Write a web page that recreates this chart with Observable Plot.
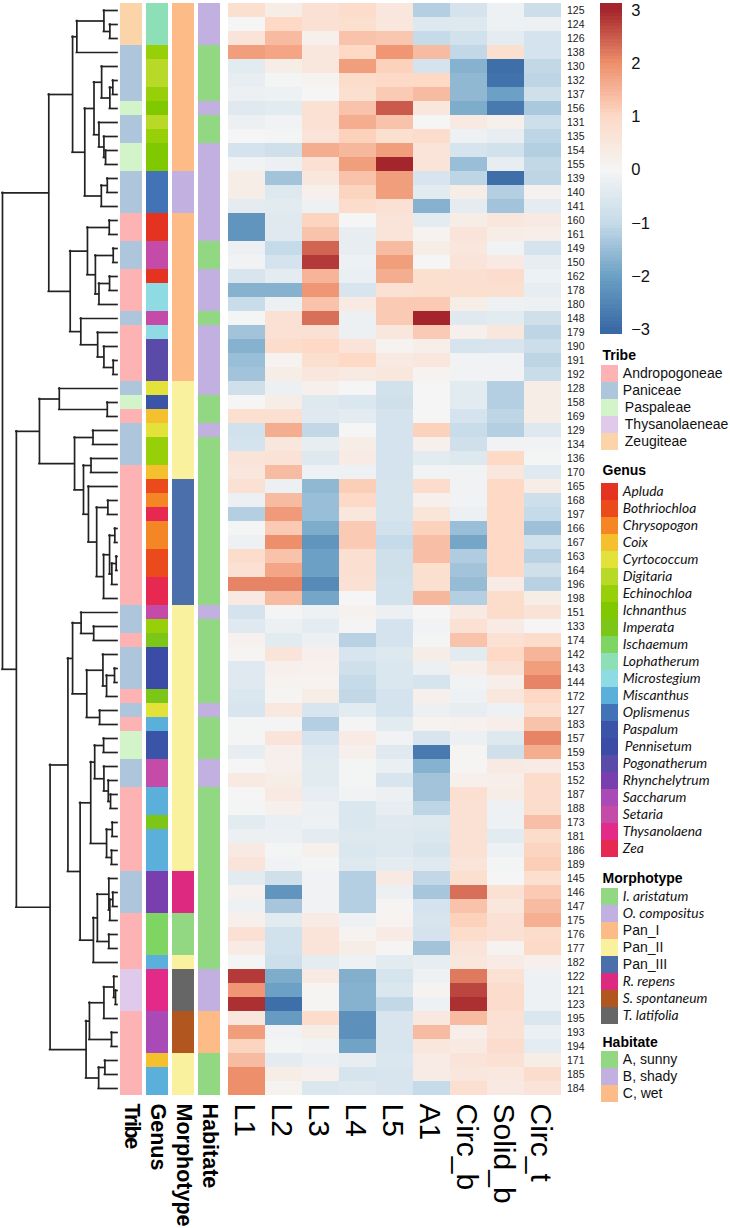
<!DOCTYPE html>
<html>
<head>
<meta charset="utf-8">
<script src="https://cdn.jsdelivr.net/npm/d3@7"></script>
<script src="https://cdn.jsdelivr.net/npm/@observablehq/plot@0.6"></script>
<style>
html,body{margin:0;padding:0;background:#fff}
#chart{position:relative;width:730px;height:1228px;overflow:hidden}
</style>
</head>
<body>
<div id="chart"></div>
<script>
const rows = [125,124,126,138,130,132,137,156,131,135,154,155,139,140,141,160,161,149,150,162,178,180,148,179,190,191,192,
128,158,169,129,134,136,170,165,168,197,166,167,163,164,196,198,151,133,174,142,143,144,172,127,183,157,159,153,
152,187,188,173,181,186,189,145,146,147,175,176,177,182,122,121,123,195,193,194,171,185,184].map(String);
const columns = ["L1","L2","L3","L4","L5","A1","Circ_b","Solid_b","Circ_t"];

const L1 = [.8,0,.6,1.8,-.4,-.3,-.2,-.45,-.2,0,-.7,-.1,.3,.3,-.35,-2.2,-2.2,-.2,-.1,-.6,-1.7,-.95,-.05,-1.4,-1.7,-1.5,-1.4,
-.8,0,.8,-.75,-.7,.6,.5,.7,-.2,-1.2,-.05,-.15,.9,.7,2.1,.4,-.7,-.45,.15,.05,-.45,-.45,-.55,-.6,-.05,-.02,-.3,0,
.4,0,-.05,-.4,-.2,.4,.6,-.4,.15,-.15,.2,.7,.35,-.05,2.8,1.9,2.9,.5,1.8,1.05,1.4,2,2];
const L2 = [.3,1,1.4,1.7,.3,-.05,-.15,-.4,-.1,-.05,-.8,-.2,-1.4,-.5,-.4,-.45,-.45,-1,-.7,-.35,-1.7,-.2,.7,.7,.9,.1,.3,
-.2,.3,.75,1.6,.5,.65,1.4,-.2,1.4,1.85,1.2,2,1.3,1.7,2.1,1.4,-.02,-.2,-.4,.6,.2,.1,.05,.45,-.03,.6,.2,.2,
.3,.4,.2,-.25,-.2,-.05,-.1,-.8,-2.2,-1.35,-.4,-.75,-.75,-.85,-1.8,-2,-2.9,-2.1,-.1,-.05,-.35,.3,.1];
const L3 = [.7,.7,.2,.5,.5,.1,0,.7,.7,.6,1.6,.7,.5,.2,-.15,1.05,1.3,2.4,2.8,1.5,1.9,1.3,2.3,.7,1,.8,.5,
.2,-.5,-.45,-1.05,-.3,-.5,-.15,-1.6,-1.5,-1.5,-1.8,-2.2,-2,-2,-2.4,-1.9,-.15,-.35,-.2,.2,.15,.1,.3,-.6,-1.2,-.7,-.45,-.4,
-.4,-.3,-.2,-.15,-.35,.2,-.05,-.1,-.1,-.1,.35,.6,.6,-.35,.4,.05,.05,.9,.3,-.1,-.2,.2,-.55];
const L4 = [.9,.8,1.3,1,1.8,.9,.8,1.3,1.6,1.1,1.45,1.8,1.3,1.05,.9,0,-.3,-.3,-.15,-.25,-.6,.4,-.2,-.2,.6,1,.4,
0,-.55,-.35,0,.3,.35,-.15,1.15,.95,.5,1.2,1.2,.75,.75,.7,0,.15,-.03,-1.15,-.6,-.8,-1,-1.05,-.4,-.03,.35,.2,-.05,
-.05,-.1,-.55,-.55,-.5,-.55,-.5,-1.2,-1.2,-1.2,-.15,.1,.3,-.15,-1.75,-1.7,-1.7,-2.3,-2.3,-1.95,-.3,-.65,-.5];
const L5 = [.5,.5,1.25,1.9,1.1,.95,1.2,2.5,1.3,.8,1.8,3,1.8,1.8,.7,.6,.6,1.4,1.8,1.6,.7,1.2,1.2,.5,.1,.4,.5,
-.75,-.8,-.7,-.7,-.7,-.7,-.7,-.65,-.65,-.65,-.75,-1,-.8,-.8,-.75,-.75,-.2,-.7,-.7,-.5,-.55,-.55,-.7,-.7,-.4,-.1,-.45,-.25,
-.6,-.2,-.3,-.45,-.5,-.5,-.35,.4,-.2,.05,.1,.35,.05,-.4,-.65,-.55,-1.05,-.6,-.6,-.6,-.55,-.6,-.6];
const A1 = [-1.2,-.5,-1,1.4,-.7,1,1.4,.5,0,.85,.6,.6,-.6,-.4,-1.7,-.35,.1,.3,0,.8,.8,1.2,3,1.2,.25,.5,.1,
0,0,0,1.1,.2,-.4,-.1,.85,.2,.55,1.1,1.35,1.35,.8,.75,1.45,0,-.1,-.05,.3,-.2,-.65,.2,-.2,.1,-.6,-2.7,-1.7,
-1.4,-1.4,-1.1,-.5,-.55,-.65,-.45,-1.05,-1.35,-.7,-.6,-.7,-1.4,-.3,-.15,.1,-.15,.45,1.4,.5,.35,.35,-1];
const Circ_b = [-.7,-.5,-.75,-1.05,-1.7,-1.6,-1.6,-1.8,.4,-.15,-.65,-1.5,-1.1,.3,-.35,.3,.6,.5,.6,.75,.8,.3,-.45,.2,-.65,-.1,-.1,
-.4,-.4,-.7,-.95,-.8,-.5,-.1,-.1,-.1,-.2,-1.5,-1.9,-1.25,-1.4,-1.55,-1.2,.4,.7,1.3,-.4,.25,-.1,-.15,-.3,.15,-.2,.05,.05,
.2,.75,.7,.7,.7,.7,.6,.8,2.3,1.3,1.1,.9,.6,.5,2.2,2.7,2.9,1.4,.25,.4,.6,.5,.75];
const Solid_b = [-.15,-.15,-.35,.8,-2.9,-2.85,-2,-2.7,.2,-.3,-.75,-.3,-2.9,-1.2,-1.4,.5,.3,-.1,.4,.85,.8,-.15,-.4,.5,-.6,-.1,-.1,
-1.2,-1.2,-1.1,-1.2,-.1,1,.5,1,1,1,1,1,1,1,.35,.9,.9,.35,.7,1,.7,.25,.5,-.15,.25,-.5,-.8,.4,
.25,.3,-.15,-.15,-.4,-.15,-.05,0,.7,.5,.7,.7,.1,.35,.7,.85,.85,.7,.7,.85,.7,.45,.4];
const Circ_t = [-.9,-.2,-.7,-.7,-1.05,-1.1,-.8,-1.3,-.85,-1.1,-1.2,-1.05,-1.1,.15,-.35,.4,.25,-.7,-.3,-.15,-.3,-.2,-.8,-1.1,-.9,-1.1,-.95,
.3,.3,.3,-.5,-.1,-.05,-.45,.3,-.85,-1,-1.45,-.75,-1.15,-.8,-1.15,.3,.65,0,.9,1.5,1.8,2.1,1,.75,1.3,2.1,1.6,.35,
.9,.85,.85,1.35,.9,1.05,1.15,.8,1.2,1.4,1.55,.9,.95,.2,-.15,-.15,-.15,-.55,-.2,-.35,.3,.85,.6];
const seriesByColumn = [L1,L2,L3,L4,L5,A1,Circ_b,Solid_b,Circ_t];

const tribeNames = ["Andropogoneae","Paniceae","Paspaleae","Thysanolaeneae","Zeugiteae"];
const tribeColors = ["#FDB3B3","#AEC6DC","#D3F3C9","#DFCAEB","#FBD4A9"];
const genusNames = ["Apluda","Bothriochloa","Chrysopogon","Coix","Cyrtococcum","Digitaria","Echinochloa","Ichnanthus","Imperata","Ischaemum","Lophatherum","Microstegium","Miscanthus","Oplismenus","Paspalum","Pennisetum","Pogonatherum","Rhynchelytrum","Saccharum","Setaria","Thysanolaena","Zea"];
const genusColors = ["#E43421","#EB4B1C","#F58626","#F5C02E","#E2E23A","#B9D929","#97D009","#80C800","#7CC618","#7FD561","#8CDFB7","#8FDBE4","#5BB0DB","#4373B7","#3A55A8","#3A4CA5","#5B4BA9","#7A3FAF","#A94AB6","#C44CA8","#E32A88","#E72850"];
const morphNames = ["I. aristatum","O. compositus","Pan_I","Pan_II","Pan_III","R. repens","S. spontaneum","T. latifolia"];
const morphColors = ["#92D883","#C2B1E0","#FDBB87","#F9F19D","#4A6FAA","#DD2A80","#B1561F","#666666"];
const habitatNames = ["A, sunny","B, shady","C, wet"];
const habitatColors = ["#92D883","#C2B1E0","#FDBB87"];
const italicNames = new Set([...genusNames,"I. aristatum","O. compositus","R. repens","S. spontaneum","T. latifolia"]);
const nudgedNames = new Set(["Paspaleae","Thysanolaeneae","Zeugiteae","Pennisetum"]);

const tribeRuns = [["Zeugiteae",3],["Paniceae",4],["Paspaleae",1],["Paniceae",2],["Paspaleae",2],["Paniceae",3],["Andropogoneae",2],["Paniceae",2],["Andropogoneae",3],["Paniceae",1],["Andropogoneae",4],["Paniceae",1],["Paspaleae",1],["Andropogoneae",1],["Paniceae",3],["Andropogoneae",10],["Paniceae",2],["Andropogoneae",1],["Paniceae",3],["Andropogoneae",1],["Paniceae",1],["Andropogoneae",1],["Paspaleae",2],["Paniceae",2],["Andropogoneae",6],["Paniceae",3],["Andropogoneae",4],["Thysanolaeneae",3],["Andropogoneae",6]];
const genusRuns = [["Lophatherum",3],["Echinochloa",1],["Digitaria",2],["Echinochloa",1],["Ichnanthus",1],["Digitaria",1],["Echinochloa",1],["Ichnanthus",2],["Oplismenus",3],["Apluda",2],["Setaria",2],["Apluda",1],["Microstegium",2],["Setaria",1],["Microstegium",1],["Pogonatherum",3],["Cyrtococcum",1],["Paspalum",1],["Coix",1],["Cyrtococcum",1],["Echinochloa",2],["Coix",1],["Bothriochloa",1],["Chrysopogon",1],["Zea",1],["Chrysopogon",2],["Bothriochloa",2],["Zea",2],["Setaria",1],["Echinochloa",1],["Imperata",1],["Pennisetum",3],["Imperata",1],["Cyrtococcum",1],["Miscanthus",1],["Paspalum",2],["Setaria",2],["Miscanthus",2],["Imperata",1],["Miscanthus",3],["Rhynchelytrum",3],["Ischaemum",3],["Miscanthus",1],["Thysanolaena",3],["Saccharum",3],["Coix",1],["Miscanthus",2]];
const morphRuns = [["Pan_I",12],["O. compositus",3],["Pan_I",12],["Pan_II",7],["Pan_III",9],["Pan_II",19],["R. repens",3],["I. aristatum",3],["Pan_II",1],["T. latifolia",3],["S. spontaneum",3],["Pan_II",3]];
const habitatRuns = [["B, shady",3],["A, sunny",4],["B, shady",1],["A, sunny",2],["B, shady",7],["A, sunny",2],["B, shady",3],["A, sunny",1],["B, shady",5],["A, sunny",2],["B, shady",1],["A, sunny",12],["B, shady",1],["A, sunny",6],["B, shady",1],["A, sunny",3],["B, shady",2],["A, sunny",13],["B, shady",3],["C, wet",3],["A, sunny",3]];

// Dendrogram: [merge height, left, right]; a leaf is a row name.
const tree = [116,
  [69.3,
    [45.3,
      [41,[13.7,"125",[7.7,"124","126"]],"138"],
      [33,
        [23.7,
          [16,"130",[7.7,[4.7,"132","137"],"156"]],
          [18.7,"131",[13.7,"135",[12,"154","155"]]]],
        [16.3,[10.3,"139","140"],"141"]]],
    [47.7,
      [30.3,
        [8.3,"160","161"],
        [22.3,[4.3,"149","150"],[18.7,[8,"162","178"],"180"]]],
      [37,"148",[20,"179",[13.7,"190",[4.3,"191","192"]]]]]],
  [102,
    [78.7,
      [58.7,"128",[10.3,"158","169"]],
      [43.3,
        [24.7,"129","134"],
        [34.3,
          [26.7,"136","170"],
          [29.3,"165",
            [21,[9.7,"168","197"],
              [14,[8,[2.7,"166","167"],[5.7,[1.3,"163","164"],"196"]],"198"]]]]]],
    [68,
      [50,
        [45.3,
          [36.7,"151",[24,"133","174"]],
          [31,
            [14.7,"142",[11,[3,"143","144"],"172"]],
            [18,"127","183"]]],
        [37.7,
          [27,
            [23,[14,"157","159"],[13.7,"153",[9.3,"152",[7,"187","188"]]]],
            [11,[5.3,"173","181"],[6,"186","189"]]],
          [24.3,
            [20.3,
              [8.7,"145",[7.7,[4.7,"146","147"],"175"]],
              [8.7,"176","177"]],
            "182"]]],
      [31.7,
        [28.3,
          [13.7,[3.7,"122",[2,"121","123"]],"195"],
          [6,"193","194"]],
        [19,[12.7,"171","185"],"184"]]]]];

const W = 730, H = 1228;
const rowTop = 3, rowBottom = 1095;
const sans = "'Liberation Sans', Arial, sans-serif";
const layer = {position:"absolute", left:"0", top:"0", background:"transparent", fontFamily:sans, maxWidth:"none"};
const expand = runs => runs.flatMap(([name, n]) => d3.range(n).map(() => name));

const heatColor = {
  type:"linear", clamp:true,
  domain:[-3,-2,-1,0,1,2,3],
  range:["#3A6AA6","#6CA0C4","#C6DBE9","#F5F5F5","#FDD9C6","#EE8F6B","#A5252C"]
};

// Dendrogram
const verticals = [], horizontals = [];
(function walk(node){
  if (typeof node === "string") return {h:0, y:rows.indexOf(node)+.5};
  const [h,l,r] = node, a = walk(l), b = walk(r);
  verticals.push({h, y1:a.y, y2:b.y});
  horizontals.push({y:a.y, h1:a.h, h2:h}, {y:b.y, h1:b.h, h2:h});
  return {h, y:(a.y+b.y)/2};
})(tree);
const lineStyle = {stroke:"#222", strokeWidth:1.7, strokeLinecap:"square"};
const dendro = Plot.plot({
  width:W, height:H, style:layer,
  marginLeft:0, marginRight:W-118, marginTop:rowTop, marginBottom:H-rowBottom,
  x:{domain:[0,117], range:[117,1], axis:null},
  y:{domain:[0,rows.length], range:[rowTop,rowBottom], axis:null},
  marks:[
    Plot.ruleX(verticals,{x:"h", y1:"y1", y2:"y2", ...lineStyle}),
    Plot.ruleY(horizontals,{y:"y", x1:"h1", x2:"h2", ...lineStyle})
  ]
});

// Annotation strips
const annotationColumns = ["Tribe","Genus","Morphotype","Habitate"];
const annotationRuns = [tribeRuns,genusRuns,morphRuns,habitatRuns];
const annotationCells = annotationColumns.flatMap((c,i) => expand(annotationRuns[i]).map((name,j) => ({column:c, row:rows[j], name})));
const allNames = [...tribeNames,...genusNames,...morphNames,...habitatNames];
const allColors = [...tribeColors,...genusColors,...morphColors,...habitatColors];
const categorical = {type:"ordinal", domain:allNames, range:allColors};
const strips = Plot.plot({
  width:W, height:H, style:layer,
  marginLeft:118.7, marginRight:W-221.2, marginTop:rowTop, marginBottom:H-rowBottom,
  x:{domain:annotationColumns, range:[118.7,221.2], paddingInner:.16, paddingOuter:0},
  y:{domain:rows, range:[rowTop,rowBottom], padding:0, axis:null},
  color:categorical,
  marks:[
    Plot.cell(annotationCells,{x:"column", y:"row", fill:"name", shapeRendering:"crispEdges"}),
    Plot.axisX({anchor:"bottom", label:null, tickSize:0, tickPadding:8, tickRotate:90, fontSize:21.5, fontWeight:"bold", fill:"#000"})
  ]
});
d3.select(strips).selectAll("text").filter(function(){return this.textContent==="Tribe"}).style("letter-spacing","-1.4px");

// Heatmap
const heatCells = columns.flatMap((c,i) => rows.map((r,j) => ({column:c, row:r, value:seriesByColumn[i][j]})));
const heat = Plot.plot({
  width:W, height:H, style:layer,
  marginLeft:227.5, marginRight:W-561.5, marginTop:rowTop, marginBottom:H-rowBottom,
  x:{domain:columns, range:[227.5,561.5], padding:0},
  y:{domain:rows, range:[rowTop,rowBottom], padding:0},
  color:heatColor,
  marks:[
    Plot.cell(heatCells,{x:"column", y:"row", fill:"value", shapeRendering:"crispEdges"}),
    Plot.axisY({anchor:"right", label:null, tickSize:0, tickPadding:5, fontSize:10.5, fill:"#1a1a1a"}),
    Plot.axisX({anchor:"bottom", label:null, tickSize:0, tickPadding:8, tickRotate:90, fontSize:30, fill:"#000", dx:-2.5})
  ]
});

// Colour bar
const rampStep = .0622;
const ramp = d3.range(-3.09,3.13,rampStep);
const colorBar = Plot.plot({
  width:W, height:H, style:layer,
  marginLeft:599.5, marginRight:W-621.7, marginTop:3, marginBottom:H-334,
  x:{domain:[0,1], axis:null},
  y:{domain:[-3.09,3.13], range:[334,3]},
  color:heatColor,
  marks:[
    Plot.rect(ramp,{x1:0, x2:1, y1:d=>d, y2:d=>d+rampStep, fill:d=>d+rampStep/2, shapeRendering:"crispEdges"}),
    Plot.axisY({ticks:[-3,-2,-1,0,1,2,3], tickFormat:d => d < 0 ? "\u2212" + (-d) : String(d), anchor:"right", label:null, tickSize:0, tickPadding:9, fontSize:16.5, fill:"#111"})
  ]
});

// Category legends
function categoryLegend(title, names, top){
  const step = 17.33, bottom = top + names.length*step;
  const label = (filter, dx, extra) => Plot.text(names.filter(filter),{y:d=>d, text:d=>d, frameAnchor:"right", dx, textAnchor:"start", fill:"#111", ...extra});
  const plain = {fontSize:14}, slanted = {fontSize:13.8, fontStyle:"italic", fontFamily:"Lato"};
  return Plot.plot({
    width:W, height:H, style:layer,
    marginLeft:601, marginRight:W-618.3, marginTop:top, marginBottom:H-bottom,
    x:{domain:["swatch"], padding:0, axis:null},
    y:{domain:names, range:[top,bottom], padding:0, axis:null},
    color:categorical,
    marks:[
      Plot.cell(names,{x:()=>"swatch", y:d=>d, fill:d=>d, shapeRendering:"crispEdges"}),
      label(d=>!italicNames.has(d)&&!nudgedNames.has(d), 4, plain),
      label(d=>!italicNames.has(d)&&nudgedNames.has(d), 6, plain),
      label(d=>italicNames.has(d)&&!nudgedNames.has(d), 4, slanted),
      label(d=>italicNames.has(d)&&nudgedNames.has(d), 6, slanted),
      Plot.text([title],{text:d=>d, frameAnchor:"top-left", lineAnchor:"middle", dy:-9, dx:1, textAnchor:"start", fontSize:14, fontWeight:"bold", fill:"#000"})
    ]
  });
}

const chart = document.getElementById("chart");
[dendro, strips, heat, colorBar,
 categoryLegend("Tribe",tribeNames,364),
 categoryLegend("Genus",genusNames,479.3),
 categoryLegend("Morphotype",morphNames,886.7),
 categoryLegend("Habitate",habitatNames,1050.7)
].forEach(p => chart.appendChild(p));
</script>
</body>
</html>
